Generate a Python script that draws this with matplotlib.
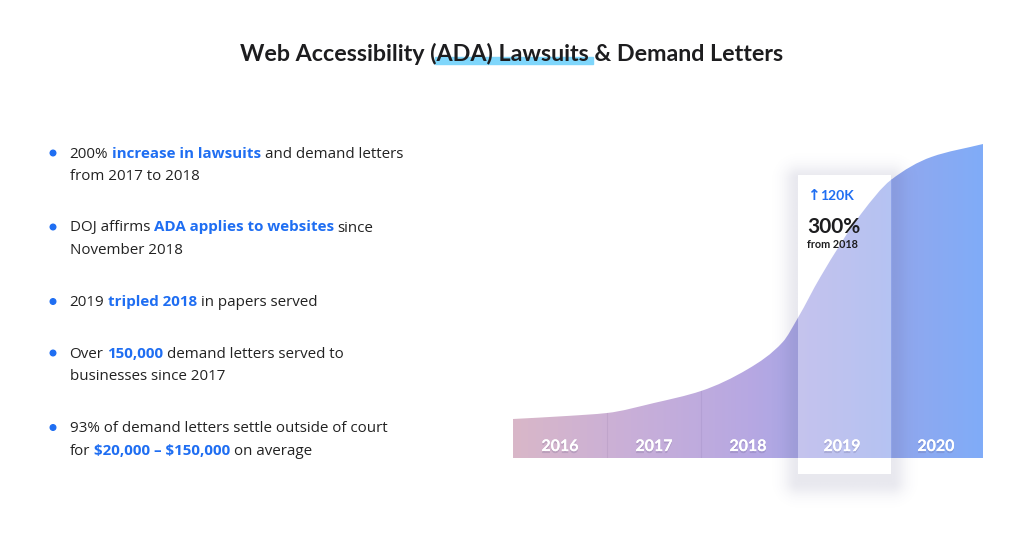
import matplotlib
matplotlib.use("Agg")
import matplotlib.pyplot as plt
import matplotlib.patheffects as pe
from matplotlib.path import Path
from matplotlib.patches import PathPatch, Rectangle, Ellipse
import numpy as np

W, H = 1036, 540
BLUE = "#1f6ef2"
DARK = "#222222"

# chart data (height, arbitrary units)
years = ["2016", "2017", "2018", "2019", "2020"]
highlight = 3  # index of 2019
curve_pos = [0, 0.57, 1.0, 1.5, 2.0, 2.5, 2.87, 3.03, 3.27, 3.71, 4.02, 4.45, 5.0]
curve_height = [39, 42, 45, 55, 67, 89, 116, 140, 181, 245, 278, 301, 314]
box_arrow = "120K"
box_pct = "300%"
box_note = "from 2018"

title = "Web Accessibility (ADA) Lawsuits & Demand Letters"
title_pre = "Web Accessibility ("
title_mark = "Web Accessibility (ADA) Lawsuits"

# (text, highlighted) runs per line, per bullet
bullets = [
    [[("200%", False), ("increase in lawsuits", True), ("and demand letters", False)],
     [("from 2017 to 2018", False)]],
    [[("DOJ affirms", False), ("ADA applies to websites", True), ("since", False)],
     [("November 2018", False)]],
    [[("2019", False), ("tripled 2018", True), ("in papers served", False)]],
    [[("Over", False), ("150,000", True), ("demand letters served to", False)],
     [("businesses since 2017", False)]],
    [[("93% of demand letters settle outside of court", False)],
     [("for", False), ("$20,000 – $150,000", True), ("on average", False)]],
]
bullet_top = [157.5, 231.5, 306, 357.5, 432]

fig = plt.figure(figsize=(W / 100, H / 100), dpi=100)
fig.patch.set_facecolor("white")
renderer = fig.canvas.get_renderer()


def fx(x):
    return x / W


def fy(y):
    return 1 - y / H


def width_of(s, **kw):
    t = fig.text(0, 0, s, parse_math=False, **kw)
    w = t.get_window_extent(renderer).width
    t.remove()
    return w


# title with marker underline
tkw = dict(family="Lato", fontweight="bold", fontsize=16)
tw = width_of(title, **tkw)
tkw["fontsize"] = 16 * 545 / tw
tw = width_of(title, **tkw)
tx = 512 - tw / 2
u0 = tx + width_of(title_pre, **tkw) - 2
u1 = tx + width_of(title_mark, **tkw) + 4
fig.patches.append(Rectangle((fx(u0), fy(63.5)), (u1 - u0) / W, 6.5 / H,
                             transform=fig.transFigure, color="#7fd6fb", zorder=1))
fig.text(fx(tx), fy(61), title, ha="left", va="baseline", color="#1d1d1f",
         zorder=2, parse_math=False, **tkw)

# bullets
bkw = dict(family="Open Sans", fontsize=10.9)
space = width_of("a a", **bkw) - width_of("aa", **bkw)
for lines, y0 in zip(bullets, bullet_top):
    fig.patches.append(Ellipse((fx(53), fy(y0 - 4.5)), 5.6 / W, 5.6 / H,
                               transform=fig.transFigure, color=BLUE))
    for li, runs in enumerate(lines):
        x = 69.5
        y = y0 + li * 23
        for i, (s, strong) in enumerate(runs):
            kw = dict(bkw, fontweight="bold" if strong else "normal")
            if i > 0:
                x += space
            t = fig.text(fx(x), fy(y), s, ha="left", va="baseline",
                         color=BLUE if strong else DARK, parse_math=False, **kw)
            x += t.get_window_extent(renderer).width

# chart axes: x in year slots, y in height units (1 unit = 1 px)
ax = fig.add_axes([513 / W, (H - 480) / H, 470 / W, 350 / H])
ax.set_xlim(0, len(years))
ax.set_ylim(-22, 328)
ax.axis("off")

# smooth monotone outline through the read points (cubic Hermite -> Bezier)
px = np.array(curve_pos, float)
py = np.array(curve_height, float)
hs = np.diff(px)
ds = np.diff(py) / hs
m = np.zeros_like(px)
m[0], m[-1] = ds[0], ds[-1]
for k in range(1, len(px) - 1):
    if ds[k - 1] * ds[k] > 0:
        w1 = 2 * hs[k] + hs[k - 1]
        w2 = hs[k] + 2 * hs[k - 1]
        m[k] = (w1 + w2) / (w1 / ds[k - 1] + w2 / ds[k])
verts = [(px[0], 0), (px[0], py[0])]
codes = [Path.MOVETO, Path.LINETO]
for i in range(len(px) - 1):
    h = hs[i]
    verts += [(px[i] + h / 3, py[i] + m[i] * h / 3),
              (px[i + 1] - h / 3, py[i + 1] - m[i + 1] * h / 3),
              (px[i + 1], py[i + 1])]
    codes += [Path.CURVE4] * 3
verts += [(px[-1], 0), (px[0], 0)]
codes += [Path.LINETO, Path.CLOSEPOLY]
area = Path(verts, codes)

stops = np.array([0.0, 0.25, 0.5, 0.75, 1.0])
stop_cols = np.array([
    [217, 183, 200], [201, 175, 216], [183, 168, 226], [152, 166, 234], [128, 172, 248]
]) / 255


def grad(x0, x1, n=300):
    xs = np.linspace(x0, x1, n) / len(years)
    rgb = np.stack([np.interp(xs, stops, stop_cols[:, c]) for c in range(3)], axis=-1)
    return np.repeat(rgb[None, :, :], 2, axis=0)


patch = PathPatch(area, facecolor="none", edgecolor="none")
ax.add_patch(patch)
im = ax.imshow(grad(0, 5), extent=(0, 5, 0, 330), aspect="auto", zorder=1,
               interpolation="bilinear")
im.set_clip_path(patch)

for b in [1, 2]:
    ln, = ax.plot([b, b], [0, 330], color="#6a5a90", alpha=0.12, lw=0.8, zorder=1.5)
    ln.set_clip_path(patch)

# highlighted 2019 card with soft shadow
bx0, bx1 = 3.03, 4.02
btop, bbot = 283, -16
xu = 1 / 94
mg = 40
gx = np.linspace(bx0 * 94 - mg, bx1 * 94 + mg, 260)
gy = np.linspace(bbot - mg, btop + mg, 400)
GX, GY = np.meshgrid(gx, gy)
ddx = np.maximum(np.maximum(bx0 * 94 - GX, GX - bx1 * 94), 0)
ddy = np.maximum(np.maximum((bbot - 8) - GY, GY - (btop - 4)), 0)
dist = np.hypot(ddx, ddy)
sh = np.zeros(GX.shape + (4,))
sh[..., :3] = np.array([80, 80, 130]) / 255
sh[..., 3] = 0.13 * np.exp(-(dist / 14.0) ** 2)
ax.imshow(sh, extent=(gx[0] / 94, gx[-1] / 94, gy[0], gy[-1]), origin="lower",
          aspect="auto", zorder=2, clip_on=False, interpolation="bilinear")
ax.add_patch(Rectangle((bx0, bbot), bx1 - bx0, btop - bbot, color="white", lw=0,
                       zorder=3, clip_on=False))
im2 = ax.imshow(grad(bx0, bx1), extent=(bx0, bx1, 0, 330), aspect="auto", zorder=4,
                alpha=0.68, interpolation="bilinear")
im2.set_clip_path(patch)
ax.set_xlim(0, len(years))
ax.set_ylim(-22, 328)

shadow = [pe.withSimplePatchShadow(offset=(0, -1.5), shadow_rgbFace="#55507a", alpha=0.2),
          pe.Normal()]
for i, yr in enumerate(years):
    ax.text(i + 0.5, 11, yr, ha="center", va="center", color="white", fontsize=11.5,
            family="Lato", fontweight="bold", zorder=6, path_effects=shadow)

ax.text(bx0 + 9 * xu, 458 - 196, "↑", ha="left", va="center", color=BLUE,
        fontsize=11, family="DejaVu Sans", fontweight="bold", zorder=6)
ax.text(bx0 + 22 * xu, 458 - 195.5, box_arrow, ha="left", va="center", color=BLUE,
        fontsize=10, family="Lato", fontweight="bold", zorder=6)
ax.text(bx0 + 9 * xu, 458 - 227, box_pct, ha="left", va="center", color="#1d1d1f",
        fontsize=15, family="Lato", fontweight="bold", zorder=6)
ax.text(bx0 + 9 * xu, 458 - 245, box_note, ha="left", va="center", color="#1d1d1f",
        fontsize=7.8, family="Lato", fontweight="bold", zorder=6)

fig.savefig("out.png", dpi=100, facecolor="white")
